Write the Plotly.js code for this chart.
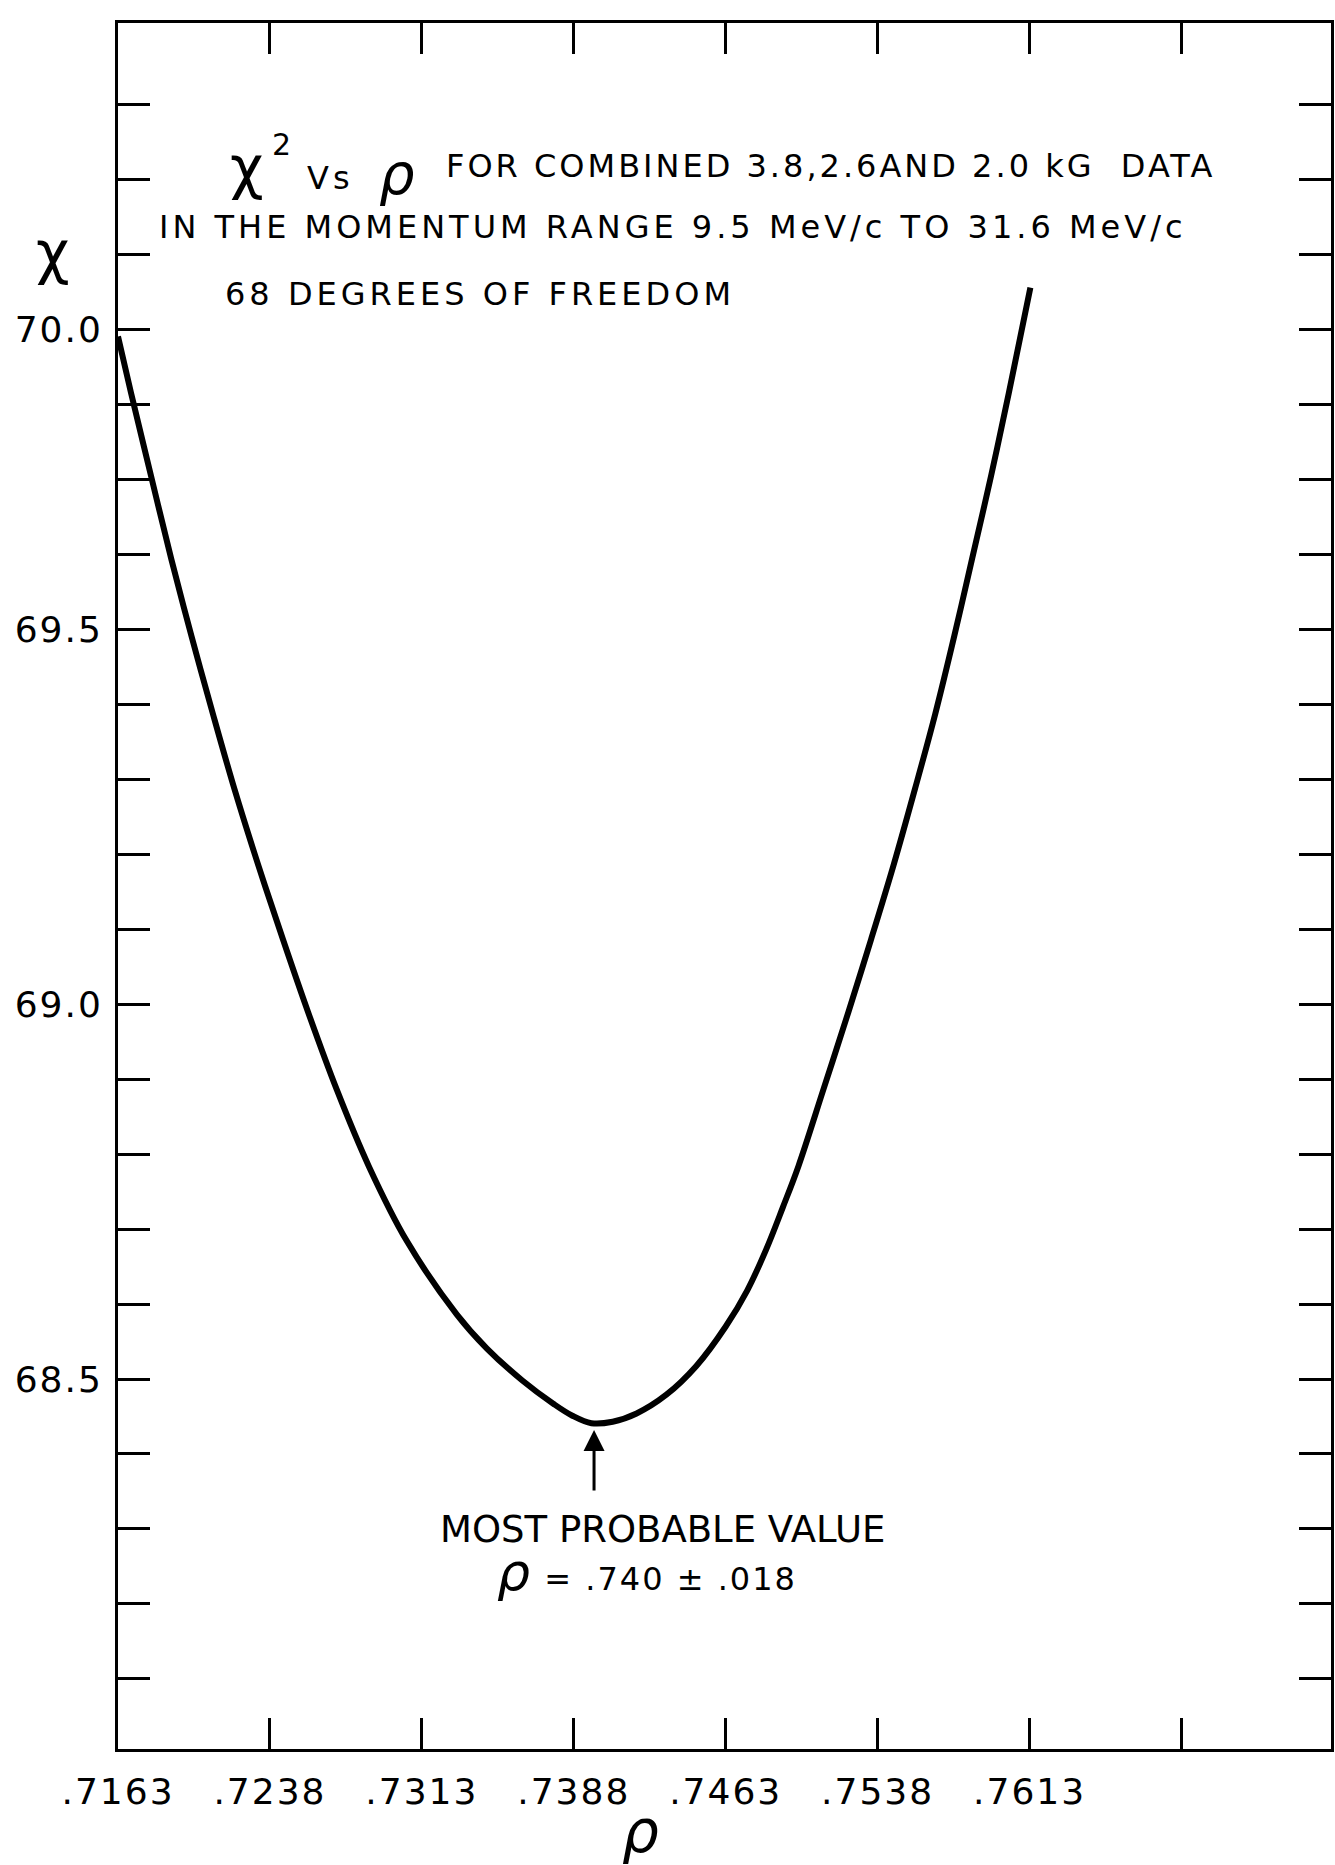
<!DOCTYPE html>
<html>
<head>
<meta charset="utf-8">
<script src="https://cdn.plot.ly/plotly-3.0.1.min.js"></script>
<style>
  html, body { margin: 0; padding: 0; background: #fff; }
  #chart { width: 1335px; height: 1865px; }
  .xtick text, .ytick text { letter-spacing: 2px; }
</style>
</head>
<body>
<div id="chart"></div>
<script>
// ---- data ----
const rho = [0.7163, 0.71694, 0.71793, 0.71893, 0.71993, 0.72099, 0.72205, 0.72322, 0.72445, 0.72569,
             0.7271, 0.72868, 0.73056, 0.73303, 0.7345, 0.73626, 0.73779, 0.73873, 0.73967, 0.74072,
             0.7419, 0.74337, 0.74484, 0.7463, 0.74736, 0.7483, 0.74912, 0.74989, 0.75112, 0.75235,
             0.75347, 0.75459, 0.75564, 0.75664, 0.75758, 0.75846, 0.7594, 0.76028, 0.76134];
const chi2 = [69.891, 69.816, 69.705, 69.594, 69.491, 69.387, 69.287, 69.186, 69.086, 68.989,
              68.886, 68.784, 68.684, 68.586, 68.541, 68.498, 68.467, 68.451, 68.441, 68.443,
              68.454, 68.479, 68.517, 68.570, 68.618, 68.673, 68.729, 68.784, 68.886, 68.989,
              69.086, 69.186, 69.287, 69.387, 69.491, 69.594, 69.705, 69.816, 69.956];

const xTickVals = [0.7163, 0.7238, 0.7313, 0.7388, 0.7463, 0.7538, 0.7613, 0.7688];
const xTickText = ['.7163', '.7238', '.7313', '.7388', '.7463', '.7538', '.7613', ''];

// tick marks every 0.1; the original drawing puts its "70.0" label on the tick four steps above 69.5
const yTickVals = [68.1, 68.2, 68.3, 68.4, 68.5, 68.6, 68.7, 68.8, 68.9, 69.0, 69.1,
                   69.2, 69.3, 69.4, 69.5, 69.6, 69.7, 69.8, 69.9, 70.0, 70.1, 70.2];
const yTickText = ['', '', '', '', '68.5', '', '', '', '', '69.0', '',
                   '', '', '', '69.5', '', '', '', '70.0', '', '', ''];

const minRho = 0.7398;   // arrow: most probable value
const minChi = 68.432;

// ---- layout geometry ----
const L = 118, R = 1331, T = 23, B = 1749;
const W = R - L, H = B - T;
const xMin = 0.7163, xMax = 0.7163 + W / 20257;
const yMax = 70.3092, yMin = yMax - H / 749.5;
const px = x => (x - L) / W;
const py = y => (B - y) / H;

const FONT = 'DejaVu Sans, sans-serif';
const ls = (t, s) => '<span style="letter-spacing:' + s + 'px">' + t + '</span>';

const trace = {
  x: rho, y: chi2, type: 'scatter', mode: 'lines',
  line: { color: '#000', width: 6, shape: 'spline', smoothing: 1 },
  hoverinfo: 'skip', showlegend: false
};

function label(text, x, y, size, xanchor, extra) {
  return Object.assign({
    xref: 'paper', yref: 'paper', x: px(x), y: py(y), xanchor: xanchor || 'left', yanchor: 'middle',
    showarrow: false, font: { family: FONT, size: size, color: '#000' }, text: text
  }, extra || {});
}

const NB = '\u00a0';
const annotations = [
  // title line 1 (pieces placed as in the lettering)
  label('χ', 247, 168, 58, 'center'),
  label('2', 281, 144, 30, 'center'),
  label(ls('Vs', 4), 305, 178, 32, 'left'),
  label('<i>ρ</i>', 397, 174, 56, 'center'),
  label(ls('FOR COMBINED 3.8,2.6AND 2.0 kG' + NB + NB + 'DATA', 3), 444, 166, 32, 'left'),
  // line 2, line 3
  label(ls('IN THE MOMENTUM RANGE 9.5 MeV/c TO 31.6 MeV/c', 4), 157, 227, 32, 'left'),
  label(ls('68 DEGREES OF FREEDOM', 4), 223, 294, 32, 'left'),
  // axis letters
  label('χ', 53, 253, 58, 'center'),
  label('<i>ρ</i>', 640, 1832, 58, 'center'),
  // arrow to minimum
  {
    xref: 'x', yref: 'y', x: minRho, y: minChi, ax: 0, ay: 62, text: '',
    showarrow: true, arrowhead: 2, arrowsize: 1.4, arrowwidth: 3, arrowcolor: '#000'
  },
  // result note (two lines)
  label('MOST PROBABLE VALUE<br>' +
        '<span style="font-size:32px;letter-spacing:2px">' + NB + NB + NB + NB + '\u2009' +
        '<span style="font-size:52px"><i>ρ</i></span> = .740 ± .018</span>',
        438, 1555, 37, 'left', { align: 'left' })
];

const axisCommon = {
  showline: true, linecolor: '#000', linewidth: 3, mirror: 'allticks',
  ticks: 'inside', ticklen: 31, tickwidth: 3, tickcolor: '#000',
  showgrid: false, zeroline: false, tickmode: 'array',
  tickfont: { family: FONT, size: 36, color: '#000' }, fixedrange: true
};

const layout = {
  width: 1335, height: 1865,
  margin: { l: L, r: 1335 - R, t: T, b: 1865 - B, pad: 0 },
  paper_bgcolor: '#fff', plot_bgcolor: '#fff',
  xaxis: Object.assign({}, axisCommon, {
    range: [xMin, xMax], tickvals: xTickVals, ticktext: xTickText, ticklabelstandoff: 9
  }),
  yaxis: Object.assign({}, axisCommon, {
    range: [yMin, yMax], tickvals: yTickVals, ticktext: yTickText, ticklen: 32, ticklabelstandoff: 5
  }),
  annotations: annotations,
  showlegend: false
};

Plotly.newPlot('chart', [trace], layout, { displayModeBar: false, staticPlot: true });
</script>
</body>
</html>
